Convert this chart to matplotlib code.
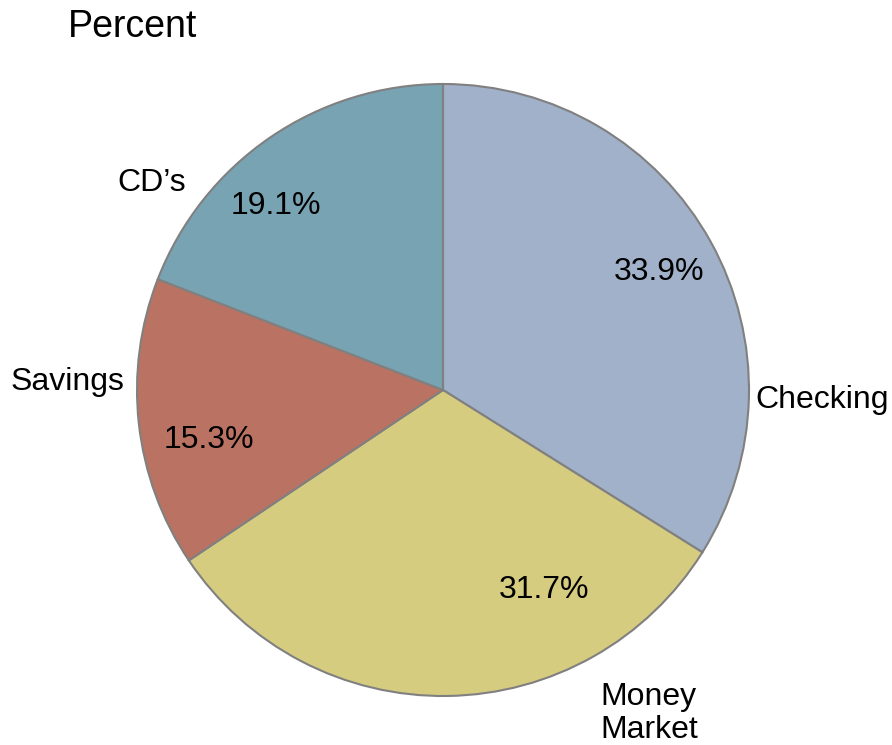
import matplotlib
matplotlib.use("Agg")
import matplotlib.pyplot as plt

plt.rcParams['font.family'] = ['Liberation Sans', 'DejaVu Sans']

categories = ["Checking", "Money\nMarket", "Savings", "CD\u2019s"]
values = [33.9, 31.7, 15.3, 19.1]
colors = ["#A0B1C9", "#D6CC80", "#BA7363", "#78A3B2"]

# label placement (data units, pie radius 1)
label_pos = [(1.02, -0.033, "left"), (0.513, -1.058, "left"),
             (-1.042, 0.026, "right"), (-0.84, 0.676, "right")]
pct_pos = [(0.706, 0.386), (0.33, -0.654), (-0.765, -0.163), (-0.546, 0.601)]

fig = plt.figure(figsize=(8.92, 7.45), dpi=100)
ax = fig.add_axes([137 / 892, 49 / 745, 612 / 892, 612 / 745])

wedges, texts, autotexts = ax.pie(
    values, labels=categories, colors=colors, startangle=90, counterclock=False,
    autopct="%1.1f%%", wedgeprops=dict(edgecolor="#808080", linewidth=1.5),
    textprops=dict(fontsize=23, color="black"))

for t, (x, y, ha) in zip(texts, label_pos):
    t.set_position((x, y))
    t.set_ha(ha)
    t.set_va("center")
    t.set_multialignment("left")
    t.set_linespacing(1.15)

for t, (x, y) in zip(autotexts, pct_pos):
    t.set_position((x, y))
    t.set_ha("center")
    t.set_va("center")

ax.set_xlim(-1, 1)
ax.set_ylim(-1, 1)
ax.set_aspect("equal")

fig.text(68 / 892, 1 - 27 / 745, "Percent", fontsize=27, ha="left", va="center")

fig.savefig("out.png", dpi=100)
